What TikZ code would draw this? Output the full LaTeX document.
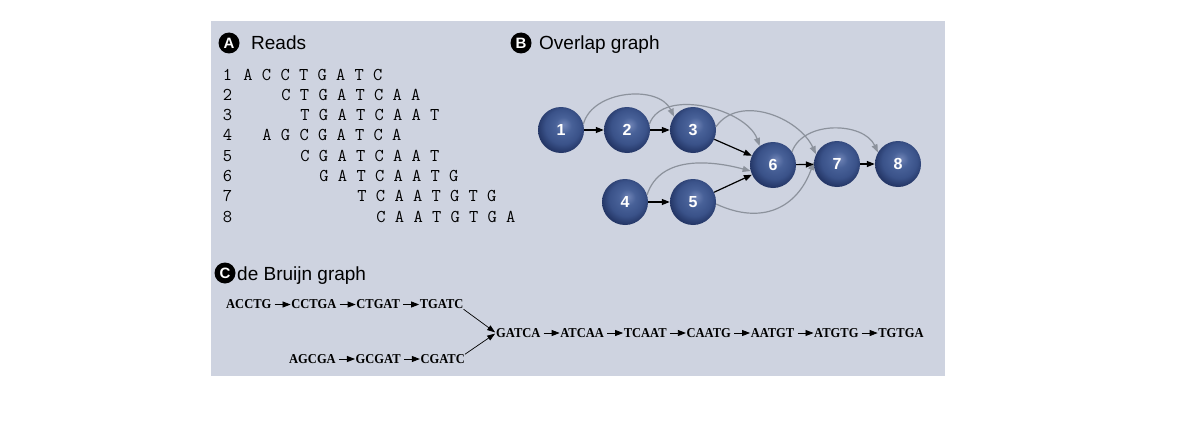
\documentclass[tikz,border=0pt]{standalone}
\usepackage{fontspec}
\newfontfamily\hel{Liberation Sans}
\newfontfamily\tms[FakeStretch=0.92]{Liberation Serif}
\usetikzlibrary{arrows.meta,positioning}
\definecolor{panel}{RGB}{206,211,224}
\definecolor{arcgray}{RGB}{140,146,156}
\definecolor{sphL}{RGB}{112,132,182}
\definecolor{sphM}{RGB}{72,97,152}
\definecolor{sphN}{RGB}{58,82,137}
\definecolor{sphD}{RGB}{36,54,102}
\definecolor{sphE}{RGB}{28,42,86}
\pgfdeclareradialshading{sphere}{\pgfpoint{3bp}{6bp}}{color(0bp)=(sphL); color(9bp)=(sphM); color(19bp)=(sphN); color(27bp)=(sphD); color(34bp)=(sphE); color(50bp)=(sphE)}
\tikzset{
  ball/.style={circle, minimum size=46pt, inner sep=0pt, shade, shading=sphere, text=white,
    font=\hel\bfseries\fontsize{16}{16}\selectfont},
  blk/.style={-{Triangle[length=8pt,width=6pt]}, line width=1.2pt, black},
  garc/.style={-{Triangle[length=8pt,width=6pt]}, line width=1.2pt, arcgray},
  head/.style={font=\hel\fontsize{19}{19}\selectfont, anchor=base west, inner sep=0pt},
  badge/.style={circle, fill=black, minimum size=21pt, inner sep=0pt, text=white,
    font=\hel\bfseries\fontsize{15}{15}\selectfont},
  seq/.style={font=\ttfamily\fontsize{18}{18}\selectfont, anchor=base west, inner sep=0pt, text=black},
  num/.style={font=\ttfamily\fontsize{18}{18}\selectfont, anchor=base, inner sep=0pt, text=black},
  kmer/.style={font=\tms\bfseries\fontsize{13.6}{13.6}\selectfont, inner sep=0pt},
  kar/.style={-{Triangle[length=8pt,width=6pt]}, line width=0.8pt, shorten <=3pt, shorten >=0.5pt},
  dar/.style={-{Triangle[length=8pt,width=5.5pt]}, line width=0.7pt, shorten >=1pt},
}
\begin{document}
\begin{tikzpicture}[x=1pt,y=-1pt]
\useasboundingbox (0,0) rectangle (1190,420);
\fill[panel] (211,21) rectangle (945,376);

% headings
\node[badge] (bA) at (229,43) {A};
\node[head] (tA) at (251,50) {Reads};
\node[badge] (bB) at (521,43) {B};
\node[head] (tB) at (539,50) {Overlap graph};
\node[badge] (bC) at (225,273) {C};
\node[head] (tC) at (237,280) {de Bruijn graph};

% reads
\foreach \i in {1,...,8}{
  \node[num] (d\i) at (227.5,{80+20.3*(\i-1)}) {\i};
}
\node[seq] (s1) at (243.25,80) {A C C T G A T C};
\node[seq] (s2) at (281.25,100.3) {C T G A T C A A};
\node[seq] (s3) at (300.25,120.6) {T G A T C A A T};
\node[seq] (s4) at (262.25,140.9) {A G C G A T C A};
\node[seq] (s5) at (300.25,161.2) {C G A T C A A T};
\node[seq] (s6) at (319.25,181.5) {G A T C A A T G};
\node[seq] (s7) at (357.25,201.8) {T C A A T G T G};
\node[seq] (s8) at (376.25,222.1) {C A A T G T G A};

% overlap graph
\node[ball] (n1) at (561,130) {1};
\node[ball] (n2) at (627,130) {2};
\node[ball] (n3) at (693,130) {3};
\node[ball] (n6) at (773,165) {6};
\node[ball] (n7) at (837,164) {7};
\node[ball] (n8) at (898,164) {8};
\node[ball] (n4) at (625,202) {4};
\node[ball] (n5) at (693,202) {5};

\draw[garc] (n1.15) to[out=75,in=115] (n3.145);
\draw[garc] (n2.15) to[out=70,in=110,looseness=0.9] (n6.125);
\draw[garc] (n3.8) to[out=55,in=115] (n7.155);
\draw[garc] (n6.35) to[out=70,in=115] (n8.150);
\draw[garc] (n4.18) to[out=72,in=165] (n6.195);
\draw[garc] (n5.-5) to[out=-25,in=250,looseness=1.2] (n7.175);

\draw[blk] (n1) -- (n2);
\draw[blk] (n2) -- (n3);
\draw[blk] (n3) -- (n6);
\draw[blk] (n4) -- (n5);
\draw[blk] (n5) -- (n6);
\draw[blk] (n6) -- (n7);
\draw[blk] (n7) -- (n8);

% de Bruijn graph
\node[kmer, anchor=west] (w1) at (226,304.5) {ACCTG};
\node[kmer, right=19.5pt of w1] (w2) {CCTGA};
\node[kmer, right=19.5pt of w2] (w3) {CTGAT};
\node[kmer, right=19.5pt of w3] (w4) {TGATC};
\node[kmer, anchor=west] (r1) at (289,359) {AGCGA};
\node[kmer, right=19.5pt of r1] (r2) {GCGAT};
\node[kmer, right=19.5pt of r2] (r3) {CGATC};
\node[kmer, anchor=west] (m1) at (496,333) {GATCA};
\node[kmer, right=19.5pt of m1] (m2) {ATCAA};
\node[kmer, right=19.5pt of m2] (m3) {TCAAT};
\node[kmer, right=19.5pt of m3] (m4) {CAATG};
\node[kmer, right=19.5pt of m4] (m5) {AATGT};
\node[kmer, right=19.5pt of m5] (m6) {ATGTG};
\node[kmer, right=19.5pt of m6] (m7) {TGTGA};

\draw[kar] (w1) -- (w2);
\draw[kar] (w2) -- (w3);
\draw[kar] (w3) -- (w4);
\draw[kar] (r1) -- (r2);
\draw[kar] (r2) -- (r3);
\draw[kar] (m1) -- (m2);
\draw[kar] (m2) -- (m3);
\draw[kar] (m3) -- (m4);
\draw[kar] (m4) -- (m5);
\draw[kar] (m5) -- (m6);
\draw[kar] (m6) -- (m7);
\draw[dar] (w4.south east) -- (m1.west);
\draw[dar] (r3.north east) -- (m1.west);
\end{tikzpicture}
\end{document}
